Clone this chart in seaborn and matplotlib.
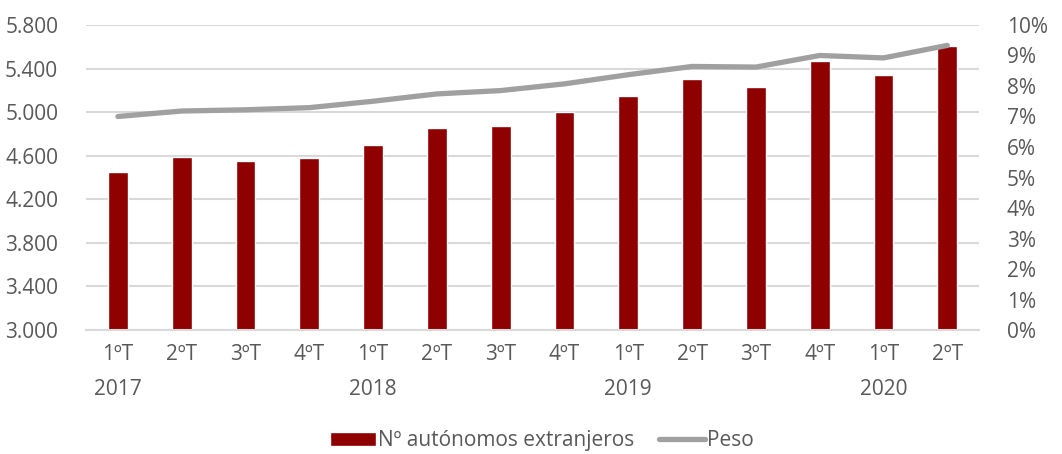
import numpy as np
import pandas as pd
import matplotlib
matplotlib.use("Agg")
import matplotlib.pyplot as plt
import seaborn as sns
from matplotlib.ticker import FuncFormatter, PercentFormatter

# =====================================
# Data
# =====================================

quarters = ["1ºT", "2ºT", "3ºT", "4ºT", "1ºT", "2ºT", "3ºT",
            "4ºT", "1ºT", "2ºT", "3ºT", "4ºT", "1ºT", "2ºT"]
years = ["2017", "", "", "", "2018", "", "", "",
         "2019", "", "", "", "2020", ""]
autonomos = [4450, 4590, 4550, 4580, 4700, 4850, 4875,
             5000, 5145, 5300, 5235, 5465, 5340, 5605]
peso = [7.0, 7.18, 7.22, 7.29, 7.5, 7.74, 7.85,
        8.07, 8.37, 8.64, 8.62, 9.0, 8.92, 9.33]

labels = [q + "\n" + y if y else q for q, y in zip(quarters, years)]

df = pd.DataFrame({
    "pos": np.arange(len(autonomos)),
    "autonomos": autonomos,
    "peso": peso,
})

# =====================================
# Style
# =====================================

sns.set_theme(style="white")
plt.rcParams["font.family"] = ["Open Sans", "DejaVu Sans"]
text_color = "#595959"
grid_color = "#d9d9d9"
bar_color = "#8f0000"
line_color = "#a0a0a0"
fs = 15

fig = plt.figure(figsize=(10.62, 4.54), dpi=100)
ax = fig.add_axes([0.081, 0.273, 0.841, 0.672])

# =====================================
# Bars
# =====================================

sns.barplot(data=df, x="pos", y="autonomos", color=bar_color,
            width=0.31, saturation=1, ax=ax, label="Nº autónomos extranjeros",
            zorder=2)

ax.set_ylim(3000, 5800)
ax.set_yticks(np.arange(3000, 5801, 400))
ax.yaxis.set_major_formatter(FuncFormatter(lambda v, p: f"{int(v):,}".replace(",", ".")))
ax.grid(axis="y", color=grid_color, linewidth=1.5, zorder=0)
ax.set_axisbelow(True)
for s in ["top", "right", "left"]:
    ax.spines[s].set_visible(False)
ax.spines["bottom"].set_color(grid_color)
ax.spines["bottom"].set_linewidth(1.5)
ax.set_xlabel("")
ax.set_ylabel("")
ax.set_xticks(df["pos"])
ax.set_xticklabels(labels)
ax.tick_params(axis="x", length=0, pad=10, labelsize=fs, colors=text_color)
ax.tick_params(axis="y", length=0, pad=20, labelsize=fs, colors=text_color)
for t in ax.get_xticklabels():
    t.set_linespacing(1.85)
    t.set_verticalalignment("top")

# =====================================
# Line (secondary axis)
# =====================================

ax2 = ax.twinx()
sns.lineplot(x=df["pos"], y=df["peso"], color=line_color, linewidth=3.8,
             ax=ax2, label="Peso", solid_capstyle="round", legend=False)
ax2.set_ylim(0, 10)
ax2.set_yticks(np.arange(0, 11, 1))
ax2.yaxis.set_major_formatter(PercentFormatter(decimals=0))
ax2.tick_params(axis="y", length=0, pad=20, labelsize=fs, colors=text_color)
ax2.set_ylabel("")
for s in ax2.spines.values():
    s.set_visible(False)
ax.set_xlim(-0.5, len(autonomos) - 0.5)

# =====================================
# Legend
# =====================================

h1, l1 = ax.get_legend_handles_labels()
h2, l2 = ax2.get_legend_handles_labels()
if ax.get_legend():
    ax.get_legend().remove()
fig.legend(h1 + h2, l1 + l2, loc="lower center", ncol=2, frameon=False,
           bbox_to_anchor=(0.51, -0.035), fontsize=fs, labelcolor=text_color,
           handlelength=2.2, handletextpad=0.1, columnspacing=1.2)

fig.savefig("out.png", dpi=100)
